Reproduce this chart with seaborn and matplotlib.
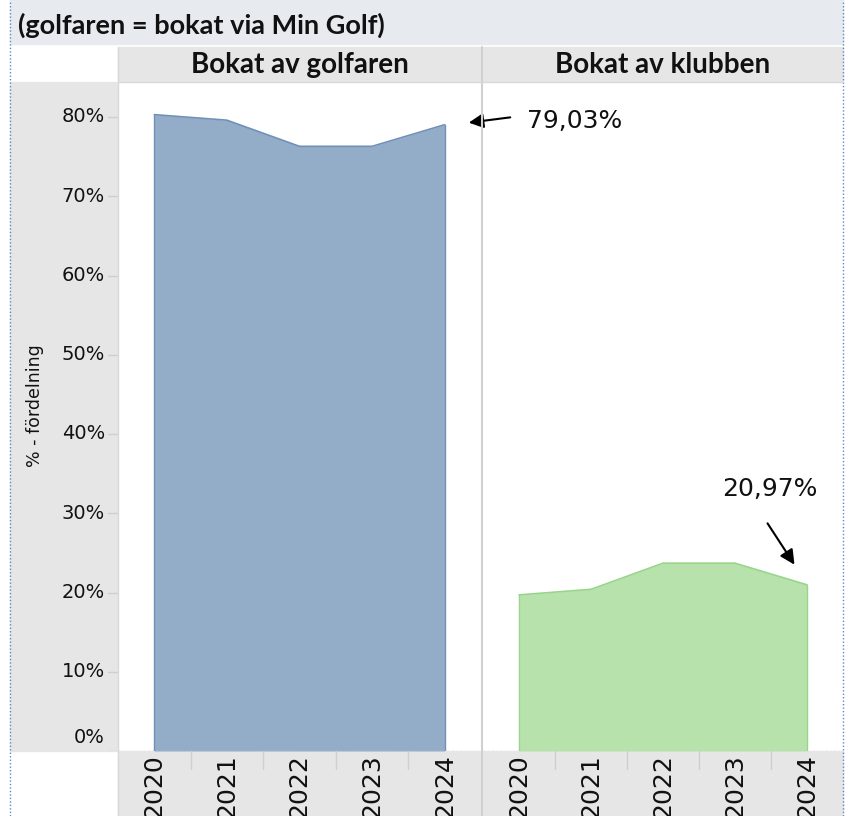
import matplotlib
matplotlib.use("Agg")
import matplotlib.pyplot as plt
import matplotlib.patches as mpatches
import seaborn as sns
import pandas as pd
import numpy as np

years = ["2020", "2021", "2022", "2023", "2024"]
golfaren = [80.3, 79.6, 76.3, 76.3, 79.03]
klubben = [19.7, 20.4, 23.7, 23.7, 20.97]
panel_titles = ["Bokat av golfaren", "Bokat av klubben"]
yticks = [0, 10, 20, 30, 40, 50, 60, 70, 80]
subtitle = "(golfaren = bokat via Min Golf)"
ylabel = "% - fördelning"
ann_golfaren = "79,03%"
ann_klubben = "20,97%"

sns.set_style("white")
plt.rcParams['font.family'] = ['DejaVu Sans']

W, H = 847, 816
fig = plt.figure(figsize=(W / 100, H / 100), dpi=100)

def rect(x0, y0, x1, y1):
    return [x0 / W, 1 - y1 / H, (x1 - x0) / W, (y1 - y0) / H]

def bg(x0, y0, x1, y1, color):
    fig.patches.append(mpatches.Rectangle((x0 / W, 1 - y1 / H), (x1 - x0) / W, (y1 - y0) / H,
                                          transform=fig.transFigure, color=color, zorder=-5))

# backgrounds
bg(10, 0, 843, 44, "#e7ebef")
bg(118, 47, 843, 82, "#e6e6e6")
bg(10, 82, 118, 751, "#e6e6e6")
bg(118, 751, 843, 816, "#e6e6e6")

# borders (dotted blue)
for x in (10, 843):
    fig.add_artist(plt.Line2D([x / W, x / W], [0, 1], transform=fig.transFigure,
                              color="#5b8bc7", lw=1, ls=(0, (1, 1.5))))

fig.text(18 / W, 1 - 25 / H, subtitle, fontsize=19.5, fontweight="bold",
         family="Lato", va="center", ha="left", color="#111111")

panels = [(118, 481), (483, 843)]
series = [golfaren, klubben]
fills = ["#93acc8", "#b8e2ab"]
edges = ["#7090b8", "#98d48a"]
ymax = (751 - 82) / 7.925

for i, ((x0, x1), vals) in enumerate(zip(panels, series)):
    ax = fig.add_axes(rect(x0, 82, x1, 751))
    df = pd.DataFrame({"pos": np.arange(len(years)), "val": vals})
    ax.fill_between(df["pos"], 0, df["val"], color=fills[i], lw=0, zorder=1)
    sns.lineplot(data=df, x="pos", y="val", ax=ax, color=edges[i], lw=1.2, zorder=2)
    ax.plot([0, 0], [0, vals[0]], color=edges[i], lw=1, zorder=2)
    ax.plot([4, 4], [0, vals[-1]], color=edges[i], lw=1, zorder=2)
    ax.set_xlim(-0.5, len(years) - 0.5)
    ax.set_ylim(0, ymax)
    ax.set_xticks([])
    ax.set_yticks([])
    ax.set_xlabel("")
    ax.set_ylabel("")
    for s in ax.spines.values():
        s.set_visible(False)
    ax.axhline(0, color="#c8c8c8", lw=1, ls=(0, (2, 1)), zorder=3)
    # header
    fig.text((x0 + x1) / 2 / W, 1 - 65 / H, panel_titles[i], fontsize=20, fontweight="bold",
             family="Lato", ha="center", va="center", color="#111111")
    # year labels
    xa = fig.add_axes(rect(x0, 751, x1, 816))
    xa.set_xlim(-0.5, len(years) - 0.5)
    xa.set_ylim(0, 1)
    xa.axis("off")
    for j, y in enumerate(years):
        xa.text(j, 0.95, y, rotation=90, ha="center", va="top", fontsize=18, color="#111111")
        if j > 0:
            xa.plot([j - 0.5, j - 0.5], [0.72, 1], color="#cfcfcf", lw=1)
    if i == 0:
        ax1 = ax
    else:
        ax2 = ax

# separators
fig.add_artist(plt.Line2D([482 / W, 482 / W], [1 - 816 / H, 1 - 47 / H], transform=fig.transFigure,
                          color="#d0d0d0", lw=1.5))
fig.add_artist(plt.Line2D([118 / W, 118 / W], [1 - 816 / H, 1 - 47 / H], transform=fig.transFigure,
                          color="#d8d8d8", lw=1))
fig.add_artist(plt.Line2D([118 / W, 843 / W], [1 - 82 / H, 1 - 82 / H], transform=fig.transFigure,
                          color="#d8d8d8", lw=1))

# y axis labels
ya = fig.add_axes(rect(10, 82, 118, 751))
ya.set_ylim(0, ymax)
ya.set_xlim(10, 118)
ya.axis("off")
for t in yticks:
    yy = t if t > 0 else 1.7
    ya.text(105, yy, f"{t}%", ha="right", va="center", fontsize=14, color="#111111")
    ya.plot([108, 118], [t, t], color="#cfcfcf", lw=1)
fig.text(35 / W, 1 - 406 / H, ylabel, rotation=90, ha="center", va="center", fontsize=12.5, color="#111111")

# annotations
fig.add_artist(mpatches.FancyArrowPatch((513 / W, 1 - 117 / H), (466 / W, 1 - 123 / H),
                                        transform=fig.transFigure, arrowstyle="-|>",
                                        mutation_scale=22, color="black", lw=1.5))
fig.text(575 / W, 1 - 121 / H, ann_golfaren, fontsize=18, ha="center", va="center", color="#111111")
fig.add_artist(mpatches.FancyArrowPatch((766 / W, 1 - 521 / H), (796 / W, 1 - 567 / H),
                                        transform=fig.transFigure, arrowstyle="-|>",
                                        mutation_scale=22, color="black", lw=1.5))
fig.text(770 / W, 1 - 489 / H, ann_klubben, fontsize=18, ha="center", va="center", color="#111111")

fig.savefig("out.png", dpi=100)
